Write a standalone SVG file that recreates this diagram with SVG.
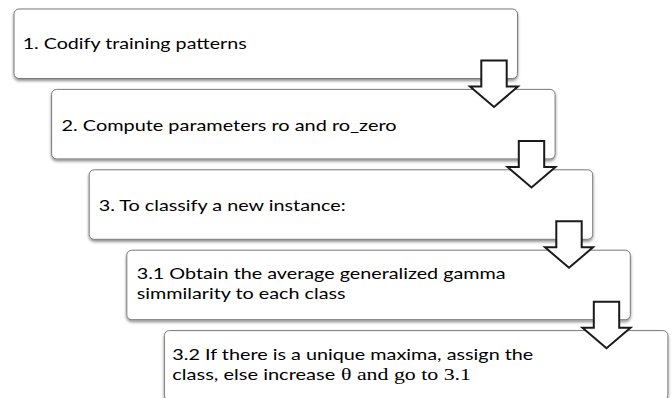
<svg xmlns="http://www.w3.org/2000/svg" width="672" height="398" viewBox="0 0 672 398">
  <style>
    .box { fill: #ffffff; stroke: #7a7a7a; stroke-width: 1; filter: url(#shadow); }
    .lbl { font-family: Lato, "Liberation Sans", sans-serif; font-size: 16px; fill: #000000; }
    .math { font-family: "Liberation Serif", "DejaVu Serif", serif; font-size: 17px; fill: #000000; }
    .arrow { fill: #ffffff; stroke: #1a1a1a; stroke-width: 2; stroke-linejoin: miter; }
  </style>
  <defs>
    <filter id="shadow" x="-5%" y="-20%" width="110%" height="150%">
      <feDropShadow dx="0" dy="2" stdDeviation="1.5" flood-color="#000000" flood-opacity="0.45"/>
    </filter>
  </defs>
  <rect width="672" height="398" fill="#ffffff"/>
  <g id="node1">
    <rect class="box" x="14" y="9" width="503.5" height="69.5" rx="5"/>
    <text class="lbl" x="22.7" y="49.3" textLength="224" lengthAdjust="spacingAndGlyphs">1. Codify training patterns</text>
  </g>
  <g id="node2">
    <rect class="box" x="51.6" y="89.4" width="503.5" height="69.5" rx="5"/>
    <text class="lbl" x="61.5" y="131" textLength="335" lengthAdjust="spacingAndGlyphs">2. Compute parameters ro and ro_zero</text>
  </g>
  <g id="node3">
    <rect class="box" x="89.2" y="169.8" width="503.5" height="69.5" rx="5"/>
    <text class="lbl" x="98.7" y="211" textLength="247" lengthAdjust="spacingAndGlyphs">3. To classify a new instance:</text>
  </g>
  <g id="node4">
    <rect class="box" x="126.8" y="250.2" width="503.5" height="69.5" rx="5"/>
    <text class="lbl" x="136.7" y="278.8" textLength="369" lengthAdjust="spacingAndGlyphs">3.1 Obtain the average generalized gamma</text>
    <text class="lbl" x="136.7" y="298.8" textLength="209" lengthAdjust="spacingAndGlyphs">simmilarity to each class</text>
  </g>
  <g id="node5">
    <rect class="box" x="164.4" y="330.6" width="503.5" height="69.5" rx="5"/>
    <text class="lbl" x="172.3" y="359.7" textLength="361" lengthAdjust="spacingAndGlyphs">3.2 If there is a unique maxima, assign the</text>
    <text class="lbl" x="172.3" y="379.5" textLength="163" lengthAdjust="spacingAndGlyphs">class, else increase</text>
    <text class="math" x="341" y="379.5" textLength="130" lengthAdjust="spacingAndGlyphs">θ and go to 3.1</text>
  </g>
  <g id="connectors">
    <path class="arrow" d="M481.3 60.5 H506.7 V86.5 H518 L494 107 L470 86.5 H481.3 Z"/>
    <path class="arrow" d="M518.8 140.9 H544.2 V166.9 H555.5 L531.5 187.4 L507.5 166.9 H518.8 Z"/>
    <path class="arrow" d="M556.3 221.3 H581.7 V247.3 H593 L569 267.8 L545 247.3 H556.3 Z"/>
    <path class="arrow" d="M593.8 301.7 H619.2 V327.7 H630.5 L606.5 348.2 L582.5 327.7 H593.8 Z"/>
  </g>
</svg>
